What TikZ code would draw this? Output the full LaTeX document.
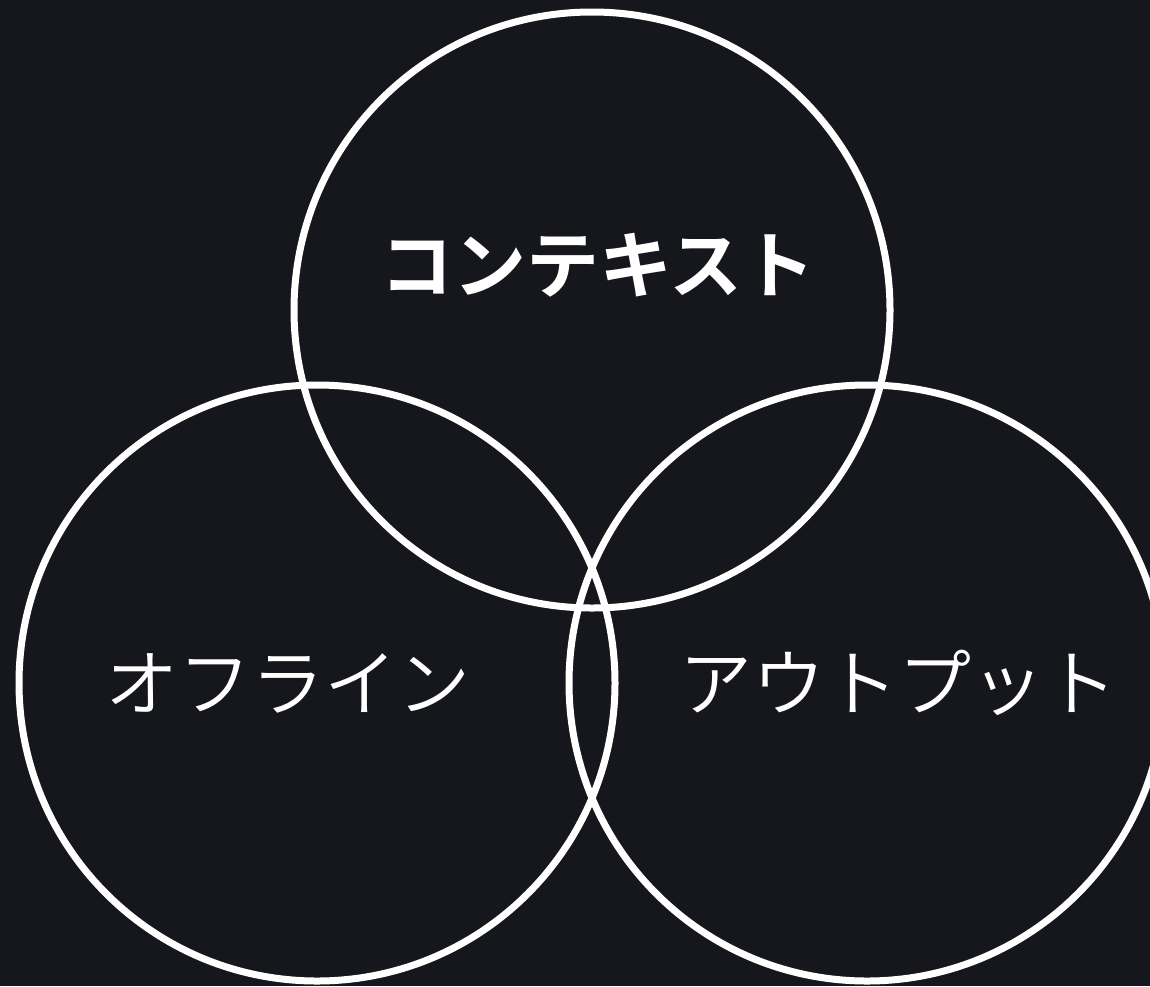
\documentclass[tikz,border=0pt]{standalone}
\usepackage{fontspec}
\usepackage{xcolor}
\newfontfamily\jpbold{Noto Sans CJK JP Bold}
\newfontfamily\jplight{Noto Sans CJK JP DemiLight}
\definecolor{bgdark}{RGB}{21,23,29}
\begin{document}
\begin{tikzpicture}[x=1pt,y=-1pt,
  ring/.style={draw=white,line width=7pt},
  venntext/.style={text=white,inner sep=0pt}]
  \fill[bgdark] (0,0) rectangle (1150,986);
  \useasboundingbox (0,0) rectangle (1150,986);
  \draw[ring] (592,310) circle (298);
  \draw[ring] (317,683) circle (298);
  \draw[ring] (867,683) circle (298);
  \node[venntext,font=\fontsize{73}{80}\selectfont\jpbold] (context) at (598,265) {コンテキスト};
  \node[venntext,font=\fontsize{73}{80}\selectfont\jplight] (offline) at (288,683) {オフライン};
  \node[venntext,font=\fontsize{73}{80}\selectfont\jplight] (output) at (898,683) {アウトプット};
\end{tikzpicture}
\end{document}
